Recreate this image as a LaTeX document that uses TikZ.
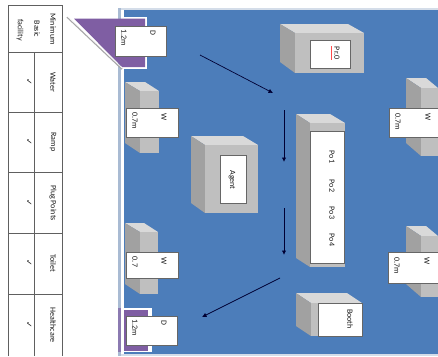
\documentclass[tikz,border=0pt]{standalone}
\usepackage{fontspec}
\setmainfont{Carlito}
\newfontfamily\checkfont{DejaVu Sans}
\usetikzlibrary{arrows.meta}
\definecolor{floorblue}{HTML}{4C7DBA}
\definecolor{edgeblue}{HTML}{A9BBD3}
\definecolor{doorpurple}{HTML}{7F5EA3}
\definecolor{tablegrey}{HTML}{606060}
\tikzset{
  vtext/.style={rotate=-90, inner sep=0pt, font=\fontsize{8}{8}\selectfont, text=black!90},
  signbox/.style={draw=black!60, line width=0.8pt, fill=white, inner sep=0pt},
  walkarrow/.style={-{Latex[length=4.5pt,width=4.5pt]}, draw=black!80!blue, line width=0.7pt},
}

\begin{document}
\begin{tikzpicture}[x=1pt,y=-1pt]
  \def\tl{8}
  \def\tm{34}
  \def\tr{62}

  % Fixed bounding box
  \path[use as bounding box, fill=white] (0,0) rectangle (438,356);

  % Floor and its edge
  \fill[edgeblue!50] (118,8) rectangle (438,356);
  \fill[white] (120.5,10) -- (124,10) -- (124,354) -- (120.5,354) -- cycle;
  \fill[edgeblue] (118,8) rectangle (120.5,356);
  \fill[floorblue] (124,10) rectangle (438,354);

  % Upper door swing
  \fill[white] (122,17) rectangle (147,69);
  \fill[doorpurple] (74,18.5) -- (145,18.5) -- (145,67) -- (122,67) -- cycle;
  \draw[black!35, line width=1.5pt] (67,17) -- (122,69);
  \draw[white, line width=0.5pt] (67,16) -- (122,68);

  % Lower door swing
  \fill[white] (124,308) rectangle (152,352);
  \fill[doorpurple] (124,310) rectangle (148,351);
  \fill[doorpurple!70!edgeblue] (118,308) rectangle (120.5,352);

  % Table
  \draw[tablegrey, line width=1pt] (\tl,356) -- (\tl,5) -- (\tr,5) -- (\tr,356);
  \draw[tablegrey, line width=1pt] (\tm,52) -- (\tm,356);
  \foreach \ty in {52,112,172,233,294} {
    \draw[tablegrey, line width=1pt] (\tl,\ty) -- (\tr,\ty);
  }
  \node[vtext] (headOne) at (53,29) {Minimum};
  \node[vtext] (headTwo) at (37,29) {Basic};
  \node[vtext] (headThree) at (20,30) {facility};
  \foreach \tname/\ty/\ttext in {water/82/Water,ramp/142/Ramp,plug/203/Plug Points,toilet/263/Toilet,health/325/Healthcare} {
    \node[vtext] (\tname) at (53,\ty) {\ttext};
    \node[vtext, font=\checkfont\fontsize{8}{8}\selectfont] (\tname Tick) at (29,\ty) {\char"2713};
  }

  % Blocks: left, front, back right, right, top, front top, side bottom, bottom
  \foreach \xa/\xb/\xc/\xd/\ya/\yb/\yc/\yd in {
    125/140/145/159/82/91/143/153,
    125/140/144/158/223/232/284/294,
    406/421/426/438/78/88/143/156,
    406/421/426/438/226/236/284/297,
    191/205/243/258/136/145/203/213,
    280/295/348/364/24/33/62/73,
    296/310/330/345/114/123/258/267,
    296/311/347/362/293/303/326/336} {
    \fill[black!15] (\xa,\ya) -- (\xc,\ya) -- (\xd,\yb) -- (\xb,\yb) -- cycle;
    \fill[black!37] (\xa,\ya) -- (\xb,\yb) -- (\xb,\yd) -- (\xa,\yc) -- cycle;
    \fill[black!25] (\xb,\yb) rectangle (\xd,\yd);
  }

  % White signs
  \node[signbox, minimum width=51pt, minimum height=30pt] (doorTop) at (140.5,41) {};
  \node[signbox, minimum width=52pt, minimum height=29pt] (winTopLeft) at (152,122.5) {};
  \node[signbox, minimum width=52pt, minimum height=26pt] (winLowLeft) at (152,265) {};
  \node[signbox, minimum width=51pt, minimum height=29pt] (doorLow) at (151.5,330.5) {};
  \node[signbox, minimum width=50pt, minimum height=29pt] (winTopRight) at (414,122.5) {};
  \node[signbox, minimum width=51pt, minimum height=31pt] (winLowRight) at (413.5,267.5) {};
  \node[signbox, minimum width=26pt, minimum height=48pt] (agentBox) at (233,179) {};
  \node[signbox, minimum width=40pt, minimum height=28pt] (prBox) at (330,54) {};
  \node[signbox, minimum width=34pt, minimum height=132pt] (posBox) at (327,197) {};
  \node[signbox, minimum width=44pt, minimum height=33pt] (boothBox) at (340,319.5) {};

  % Sign texts
  \node[vtext] (doorTopName) at (153,33) {D};
  \node[vtext] (doorTopSize) at (124,38) {1.2m};
  \node[vtext] (winTopLeftName) at (164,117) {W};
  \node[vtext] (winTopLeftSize) at (135,121) {0.7m};
  \node[vtext] (winLowLeftName) at (164,261) {W};
  \node[vtext] (winLowLeftSize) at (135,262) {0.7};
  \node[vtext] (doorLowName) at (164,323) {D};
  \node[vtext] (doorLowSize) at (135,328) {1.2m};
  \node[vtext] (winTopRightName) at (428,117) {W};
  \node[vtext] (winTopRightSize) at (398,122) {0.7m};
  \node[vtext] (winLowRightName) at (427,261) {W};
  \node[vtext] (winLowRightSize) at (397,266) {0.7m};
  \node[vtext] (agentName) at (232,180) {Agent};
  \node[vtext] (prName) at (337,53) {Pr.0};
  \draw[red!70, line width=0.6pt] (331,46) -- (331,60);
  \node[vtext] (poOne) at (332,157) {Po1};
  \node[vtext] (poTwo) at (332,186) {Po2};
  \node[vtext] (poThree) at (332,213) {Po3};
  \node[vtext] (poFour) at (332,240) {Po4};
  \node[vtext] (boothName) at (350,319) {Booth};

  % Walking route
  \coordinate (routeA) at (200,55);
  \coordinate (routeB) at (273,93);
  \coordinate (routeC) at (284,110);
  \coordinate (routeD) at (284,162);
  \coordinate (routeE) at (284,208);
  \coordinate (routeF) at (284,255);
  \coordinate (routeG) at (280,278);
  \coordinate (routeH) at (202,317);
  \draw[walkarrow] (routeA) -- (routeB);
  \draw[walkarrow, line width=1pt] (routeC) -- (routeD);
  \draw[walkarrow, line width=1pt] (routeE) -- (routeF);
  \draw[walkarrow] (routeG) -- (routeH);
\end{tikzpicture}
\end{document}
